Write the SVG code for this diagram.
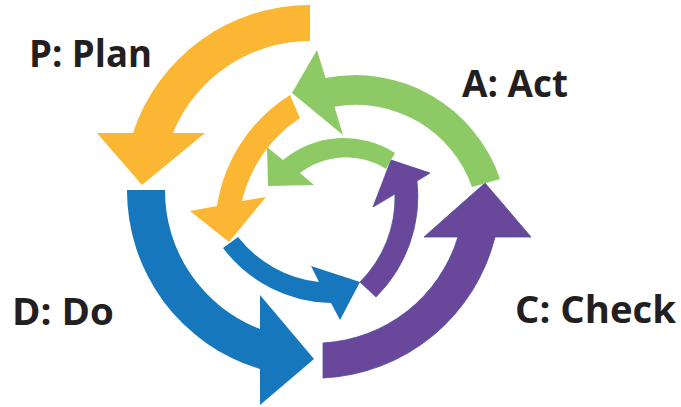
<svg xmlns="http://www.w3.org/2000/svg" width="681" height="407" viewBox="0 0 681 407">
<style>
.orange{fill:#FBB634}
.green{fill:#8DC965}
.blue{fill:#1777BD}
.purple{fill:#69479B;stroke:#4B4E9E;stroke-width:0.8}
.lbl{font-family:"Open Sans","Liberation Sans",sans-serif;font-weight:700;font-size:37px;fill:#231F20}
</style>
<rect width="681" height="407" fill="#FFFFFF"/>
<g id="connectors">
  <path id="plan-outer" class="orange" d="M310,5 A186,186 0 0 0 133,133 L97,133 L142,185 L205,133 L173,133 A148,148 0 0 1 310,41 Z"/>
  <path id="do-outer" class="blue" d="M127,190 A186,186 0 0 0 260,369 L260,405 L314,359 L260,295 L260,329 A148,148 0 0 1 165,190 Z"/>
  <path id="check-outer" class="purple" d="M323,378 A186,186 0 0 0 495,237 L531,237 L485,183 L424,237 L458,237 A150,150 0 0 1 323,343 Z"/>
  <path id="plan-inner" class="orange" d="M290,95 A160,160 0 0 0 217,206 L190,211 L229,242 L266,197 L242,201 A137,137 0 0 1 300,118 Z"/>
  <path id="act-outer" class="green" d="M500,179 A153,153 0 0 0 325.5,78 L317,50 L292,93 L343,135 L334.5,106.7 A123,123 0 0 1 472,187 Z"/>
  <path id="do-inner" class="blue" d="M223,248 A139,139 0 0 0 331,303 L340,320 L360,282 L311,266 L319,282 A120,120 0 0 1 238,237 Z"/>
  <path id="check-inner" class="purple" d="M376,297 A142,142 0 0 0 417,181 L430,173 L391,160 L373,207 L395,194 A119,119 0 0 1 360,282 Z"/>
  <path id="act-inner" class="green" d="M395,153 A95,95 0 0 0 283,160 L267,147 L268,186 L314,185 L300,173 A75,75 0 0 1 386,169 Z"/>
</g>
<g id="node-plan"><text class="lbl" x="29" y="67" textLength="123" lengthAdjust="spacingAndGlyphs">P: Plan</text></g>
<g id="node-act"><text class="lbl" x="462" y="97" textLength="106" lengthAdjust="spacingAndGlyphs">A: Act</text></g>
<g id="node-do"><text class="lbl" x="12" y="325" textLength="102" lengthAdjust="spacingAndGlyphs">D: Do</text></g>
<g id="node-check"><text class="lbl" x="515" y="323" textLength="161" lengthAdjust="spacingAndGlyphs">C: Check</text></g>
</svg>
